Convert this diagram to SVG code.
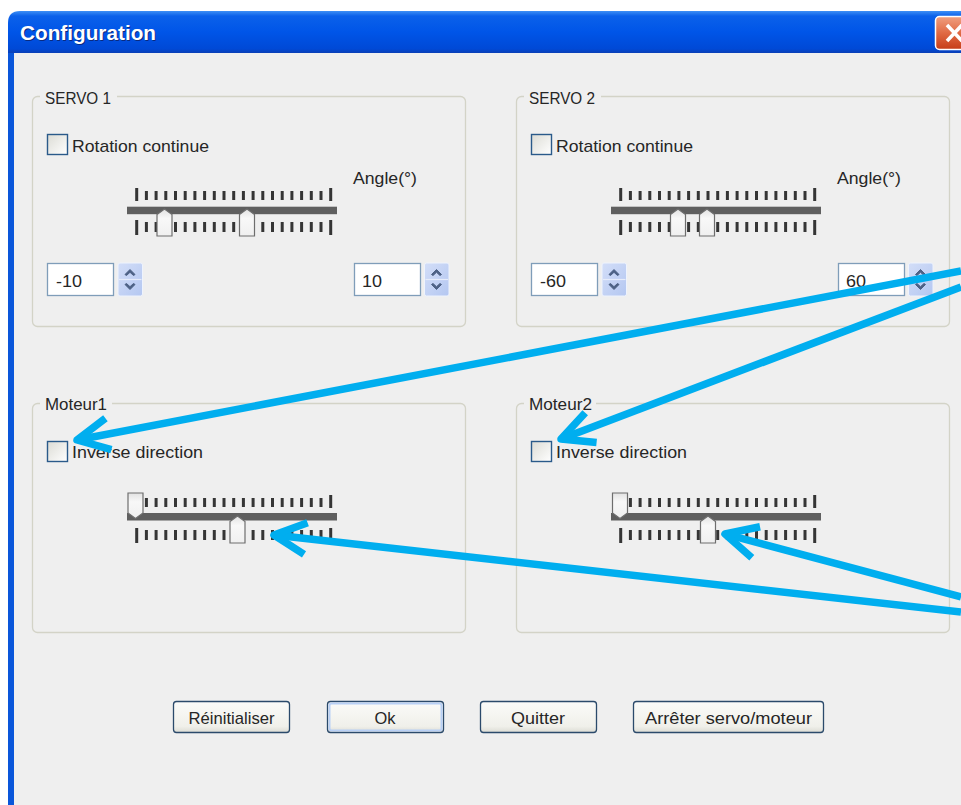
<svg xmlns="http://www.w3.org/2000/svg" width="961" height="805" viewBox="0 0 961 805">
<defs>
<style>
.t{font-family:"Liberation Sans",Arial,sans-serif;font-size:17px;fill:#262626}
.gb{fill:none;stroke:#d3d3c7;stroke-width:1.3}
.lblbg{fill:#efefef}
.cb{fill:url(#cbg);stroke:#2a5a8a;stroke-width:1.4}
.tb{fill:#fff;stroke:#7f9db9;stroke-width:1.3}
.sp{fill:url(#spg);stroke:#eef3fd;stroke-width:1}
.chev{fill:#4d6185;stroke:#4d6185;stroke-width:1;stroke-linejoin:round}
.trk{fill:#5f5f5f}
.tk{fill:none;stroke:#353535;stroke-width:3}
.th{fill:url(#thg);stroke:#6e6e6e;stroke-width:1.2}
.btn{fill:url(#btg);stroke:#2b4a6b;stroke-width:1.3}
.conn{fill:none;stroke:#00aeef;stroke-width:7.5;marker-end:url(#ah)}
</style>
<linearGradient id="tbar" x1="0" y1="0" x2="0" y2="1">
<stop offset="0" stop-color="#3d8ff5"/><stop offset="0.12" stop-color="#0b61ea"/><stop offset="0.5" stop-color="#0055e8"/><stop offset="0.9" stop-color="#0049d6"/><stop offset="1" stop-color="#0a3fb6"/>
</linearGradient>
<linearGradient id="cbtn" x1="0" y1="0" x2="0" y2="1">
<stop offset="0" stop-color="#f0a080"/><stop offset="0.5" stop-color="#e06a44"/><stop offset="1" stop-color="#c63d18"/>
</linearGradient>
<linearGradient id="cbg" x1="0" y1="0" x2="1" y2="1">
<stop offset="0" stop-color="#dcdcd5"/><stop offset="1" stop-color="#ffffff"/>
</linearGradient>
<linearGradient id="spg" x1="0" y1="0" x2="1" y2="1">
<stop offset="0" stop-color="#d3def8"/><stop offset="1" stop-color="#b4c7f1"/>
</linearGradient>
<linearGradient id="thg" x1="0" y1="0" x2="0" y2="1">
<stop offset="0" stop-color="#e2e2e2"/><stop offset="0.35" stop-color="#f8f8f8"/><stop offset="1" stop-color="#f0f0f0"/>
</linearGradient>
<linearGradient id="btg" x1="0" y1="0" x2="0" y2="1">
<stop offset="0" stop-color="#fbfbf9"/><stop offset="0.8" stop-color="#f0f0ea"/><stop offset="1" stop-color="#dcdcd4"/>
</linearGradient>
<path id="tt" class="tk" d="M0 -3v13M9.7 0v9M19.4 0v9M29.1 0v9M38.8 0v9M48.5 0v9M58.2 0v9M67.9 0v9M77.6 0v9M87.3 0v9M97 0v9M106.7 0v9M116.4 0v9M126.1 0v9M135.8 0v9M145.5 0v9M155.2 0v9M164.9 0v9M174.6 0v9M184.3 0v9M194 -3v13"/>
<path id="tbt" class="tk" d="M0 -2v15M9.7 0v10M19.4 0v10M29.1 0v10M38.8 0v10M48.5 0v10M58.2 0v10M67.9 0v10M77.6 0v10M87.3 0v10M97 0v10M106.7 0v10M116.4 0v10M126.1 0v10M135.8 0v10M145.5 0v10M155.2 0v10M164.9 0v10M174.6 0v10M184.3 0v10M194 -2v15"/>
<path id="thu" class="th" d="M0 5.5L7.5 0L15 5.5V27H0Z"/>
<path id="thd" class="th" d="M0 0H15V20L7.5 25.5L0 20Z"/>
<g id="spin">
<rect class="sp" x="0" y="0" width="24.5" height="33" rx="2"/>
<line x1="1" y1="16.5" x2="23.5" y2="16.5" stroke="#e6ecfa" stroke-width="1.2"/>
<path class="chev" d="M7 11.5L12 6.5L17 11.5L15.5 12.5L12 9.3L8.5 12.5Z"/>
<path class="chev" d="M7 21.5L12 26.5L17 21.5L15.5 20.5L12 23.7L8.5 20.5Z"/>
</g>
<marker id="ah" markerUnits="userSpaceOnUse" orient="auto" refX="0" refY="0" markerWidth="80" markerHeight="80" overflow="visible">
<path d="M-32 -16L0 0L-32 16" fill="none" stroke="#00aeef" stroke-width="7.5" stroke-linejoin="round" stroke-linecap="butt"/>
</marker>
</defs>

<rect x="0" y="0" width="961" height="805" fill="#ffffff"/>

<g id="window">
<rect x="8" y="30" width="7" height="775" fill="#0a56da"/>
<rect x="14" y="52" width="947" height="753" fill="#efefef"/>
<path d="M8 53V23Q8 11 20 11H961V53Z" fill="url(#tbar)"/>
<text x="21" y="41" font-family="Liberation Sans,Arial,sans-serif" font-weight="bold" font-size="20" fill="#0a2a80" textLength="136" lengthAdjust="spacingAndGlyphs">Configuration</text>
<text x="20" y="40" font-family="Liberation Sans,Arial,sans-serif" font-weight="bold" font-size="20" fill="#ffffff" textLength="136" lengthAdjust="spacingAndGlyphs">Configuration</text>
<rect x="935.5" y="16.5" width="34" height="33" rx="4" fill="url(#cbtn)" stroke="#ffffff" stroke-width="1.5"/>
<path d="M947 25L962 41M962 25L947 41" stroke="#ffffff" stroke-width="3.5"/>
</g>

<g id="servo1">
<rect class="gb" x="32.5" y="96.5" width="433" height="230" rx="5"/>
<rect class="lblbg" x="40" y="88" width="77" height="16"/>
<text class="t" x="45" y="104" textLength="66" lengthAdjust="spacingAndGlyphs">SERVO 1</text>
<rect class="cb" x="47.5" y="134.5" width="20" height="20"/>
<text class="t" x="72" y="152" textLength="137" lengthAdjust="spacingAndGlyphs">Rotation continue</text>
<text class="t" x="353" y="184" textLength="64" lengthAdjust="spacingAndGlyphs">Angle(°)</text>
<use href="#tt" x="136.7" y="191"/>
<rect class="trk" x="127" y="206.7" width="210" height="7.5"/>
<use href="#tbt" x="136.7" y="222"/>
<use href="#thu" x="157" y="209"/>
<use href="#thu" x="239.5" y="209"/>
<rect class="tb" x="47.5" y="263.5" width="66" height="32"/>
<text class="t" x="56" y="287" textLength="26" lengthAdjust="spacingAndGlyphs">-10</text>
<use href="#spin" x="118" y="263"/>
<rect class="tb" x="354.5" y="263.5" width="66" height="32"/>
<text class="t" x="362" y="287" textLength="20" lengthAdjust="spacingAndGlyphs">10</text>
<use href="#spin" x="424.5" y="263"/>
</g>

<g id="servo2">
<rect class="gb" x="516.5" y="96.5" width="433" height="230" rx="5"/>
<rect class="lblbg" x="524" y="88" width="77" height="16"/>
<text class="t" x="529" y="104" textLength="66" lengthAdjust="spacingAndGlyphs">SERVO 2</text>
<rect class="cb" x="531.5" y="134.5" width="20" height="20"/>
<text class="t" x="556" y="152" textLength="137" lengthAdjust="spacingAndGlyphs">Rotation continue</text>
<text class="t" x="837" y="184" textLength="64" lengthAdjust="spacingAndGlyphs">Angle(°)</text>
<use href="#tt" x="620.7" y="191"/>
<rect class="trk" x="611" y="206.7" width="210" height="7.5"/>
<use href="#tbt" x="620.7" y="222"/>
<use href="#thu" x="670.5" y="209"/>
<use href="#thu" x="699.5" y="209"/>
<rect class="tb" x="531.5" y="263.5" width="66" height="32"/>
<text class="t" x="540" y="287" textLength="26" lengthAdjust="spacingAndGlyphs">-60</text>
<use href="#spin" x="602" y="263"/>
<rect class="tb" x="838.5" y="263.5" width="66" height="32"/>
<text class="t" x="846" y="287" textLength="20" lengthAdjust="spacingAndGlyphs">60</text>
<use href="#spin" x="908.5" y="263"/>
</g>

<g id="moteur1">
<rect class="gb" x="32.5" y="403.5" width="433" height="229" rx="5"/>
<rect class="lblbg" x="40" y="395" width="72" height="16"/>
<text class="t" x="45" y="410" textLength="62" lengthAdjust="spacingAndGlyphs">Moteur1</text>
<rect class="cb" x="47.5" y="441.5" width="20" height="20"/>
<text class="t" x="72" y="458" textLength="131" lengthAdjust="spacingAndGlyphs">Inverse direction</text>
<use href="#tt" x="136.7" y="498"/>
<rect class="trk" x="127" y="513" width="210" height="7.5"/>
<use href="#tbt" x="136.7" y="530"/>
<use href="#thd" x="128" y="493"/>
<use href="#thu" x="230" y="516"/>
</g>

<g id="moteur2">
<rect class="gb" x="516.5" y="403.5" width="433" height="229" rx="5"/>
<rect class="lblbg" x="524" y="395" width="72" height="16"/>
<text class="t" x="529" y="410" textLength="63" lengthAdjust="spacingAndGlyphs">Moteur2</text>
<rect class="cb" x="531.5" y="441.5" width="20" height="20"/>
<text class="t" x="556" y="458" textLength="131" lengthAdjust="spacingAndGlyphs">Inverse direction</text>
<use href="#tt" x="620.7" y="498"/>
<rect class="trk" x="611" y="513" width="210" height="7.5"/>
<use href="#tbt" x="620.7" y="530"/>
<use href="#thd" x="612.5" y="493"/>
<use href="#thu" x="700.5" y="516"/>
</g>

<g id="btn-reinitialiser">
<rect class="btn" x="173.5" y="701.5" width="116" height="31" rx="3"/>
<text class="t" x="231.5" y="724" text-anchor="middle" textLength="86" lengthAdjust="spacingAndGlyphs">Réinitialiser</text>
</g>
<g id="btn-ok">
<rect class="btn" x="327.5" y="701.5" width="116" height="31" rx="3" stroke="#2c58a8"/>
<rect x="329.5" y="703.5" width="112" height="27" rx="2" fill="none" stroke="#b8d0f6" stroke-width="2"/>
<text class="t" x="385" y="724" text-anchor="middle" textLength="21" lengthAdjust="spacingAndGlyphs">Ok</text>
</g>
<g id="btn-quitter">
<rect class="btn" x="480.5" y="701.5" width="116" height="31" rx="3"/>
<text class="t" x="538" y="724" text-anchor="middle" textLength="54" lengthAdjust="spacingAndGlyphs">Quitter</text>
</g>
<g id="btn-arreter">
<rect class="btn" x="633.5" y="701.5" width="190" height="31" rx="3"/>
<text class="t" x="728.5" y="724" text-anchor="middle" textLength="167" lengthAdjust="spacingAndGlyphs">Arrêter servo/moteur</text>
</g>

<g id="connectors">
<path class="conn" d="M961 271L77 440"/>
<path class="conn" d="M961 287L561 439"/>
<path class="conn" d="M961 612L274 535"/>
<path class="conn" d="M961 597L725 534"/>
</g>
</svg>
